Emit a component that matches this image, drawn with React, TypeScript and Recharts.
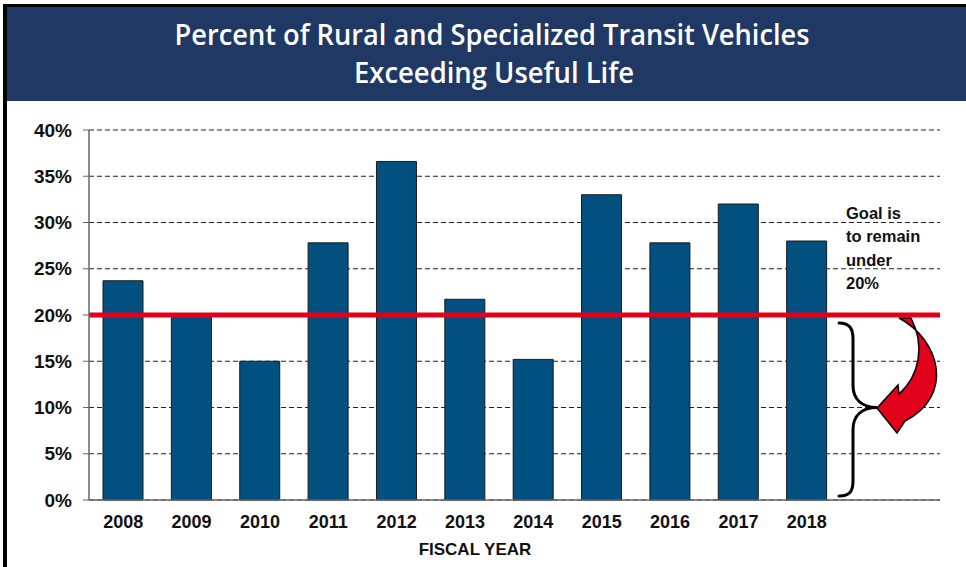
import React from 'react';
import { BarChart, Bar, XAxis, YAxis, CartesianGrid, ReferenceLine, ReferenceArea } from 'recharts';

const years = ['2008', '2009', '2010', '2011', '2012', '2013', '2014', '2015', '2016', '2017', '2018'];
const percentExceeding = [23.7, 20.0, 15.0, 27.8, 36.6, 21.7, 15.2, 33.0, 27.8, 32.0, 28.0];
const yTicks = [0, 5, 10, 15, 20, 25, 30, 35, 40];
const goal = 20;
const titleLines = ['Percent of Rural and Specialized Transit Vehicles', 'Exceeding Useful Life'];
const goalNote = ['Goal is', 'to remain', 'under', '20%'];
const xAxisTitle = 'FISCAL YEAR';

const data = years.map((y, i) => ({ year: y, value: percentExceeding[i] }));

const FONT = '"Liberation Sans", Arial, Helvetica, sans-serif';

// Anchored at the right end of the category band range (just after the last bar band)
const GoalAnnotation = (props: any) => {
  const { x, y, width, height } = props;
  const A = x + width;
  const y0 = y;
  const yb = y + height;
  const mid = y0 + height / 2;
  const p = (dx: number, dy: number) => `${A + dx},${y0 + dy}`;
  const brace = `M ${A - 2},${y0 + 8} C ${A + 9},${y0 + 8} ${A + 12},${y0 + 14} ${A + 12},${y0 + 24} L ${A + 12},${mid - 22} C ${A + 12},${mid - 8} ${A + 21},${mid} ${A + 36},${mid} C ${A + 21},${mid} ${A + 12},${mid + 8} ${A + 12},${mid + 22} L ${A + 12},${yb - 19} C ${A + 12},${yb - 9} ${A + 9},${yb - 4} ${A - 2},${yb - 4}`;
  const arrow = `M ${p(58, 3)} C ${p(99, 25)} ${p(114, 80)} ${p(64, 106)} L ${p(56, 118)} L ${p(36, 93)} L ${p(57, 70)} L ${p(58, 79)} C ${p(79, 60)} ${p(84, 30)} ${p(70, 3)} Z`;
  return (
    <g>
      <path d={brace} fill="none" stroke="#000" strokeWidth={3} strokeLinecap="round" />
      <path d={arrow} fill="#E2001A" stroke="#000" strokeWidth={1.5} strokeLinejoin="miter" />
      {goalNote.map((t, i) => (
        <text key={t} x={A + 5} y={y0 - 96 + i * 23.3} fontFamily={FONT} fontWeight="bold" fontSize={16.5} fill="#111">
          {t}
        </text>
      ))}
    </g>
  );
};

export default function App() {
  return (
    <div style={{ position: 'absolute', left: 0, top: 0, width: 966, height: 567, overflow: 'hidden', background: '#fff' }}>
      <div style={{ position: 'absolute', left: 0, top: 0 }}>
        <BarChart
          width={966}
          height={567}
          data={data}
          margin={{ top: 130, right: 26, bottom: 37, left: 0 }}
        >
          <CartesianGrid vertical={false} stroke="#222" strokeDasharray="5 3" strokeWidth={1} />
          <XAxis
            dataKey="year"
            padding={{ left: 0, right: 99 }}
            axisLine={{ stroke: '#666', strokeWidth: 1.5 }}
            tickLine={false}
            tickMargin={9}
            height={30}
            tick={{ fontFamily: FONT, fontWeight: 'bold', fontSize: 18, fill: '#111' }}
            interval={0}
          />
          <YAxis
            domain={[0, 40]}
            ticks={yTicks}
            width={89}
            tickFormatter={(v: number) => `${v}%`}
            axisLine={{ stroke: '#666', strokeWidth: 1.5 }}
            tickLine={{ stroke: '#666' }}
            tickSize={6}
            tickMargin={11}
            tick={{ fontFamily: FONT, fontWeight: 'bold', fontSize: 19, fill: '#111' }}
            interval={0}
          />
          <Bar dataKey="value" fill="#01507F" stroke="#1a1a1a" strokeWidth={1} barSize={40} isAnimationActive={false} />
          <ReferenceArea y1={0} y2={goal} fill="none" stroke="none" shape={(p: any) => <GoalAnnotation {...p} />} ifOverflow="visible" />
          <ReferenceLine y={goal} stroke="#E2001A" strokeWidth={5} />
        </BarChart>
      </div>
      <div
        style={{
          position: 'absolute', left: 0, top: 540, width: 950, textAlign: 'center',
          fontFamily: FONT, fontWeight: 'bold', fontSize: 17, color: '#111', lineHeight: '20px',
        }}
      >
        {xAxisTitle}
      </div>
      <div style={{ position: 'absolute', left: 3, top: 4, width: 4, height: 580, background: '#000' }} />
      <div style={{ position: 'absolute', left: 3, top: 4, width: 980, height: 3, background: '#000' }} />
      <svg style={{ position: 'absolute', left: 7, top: 7 }} width={970} height={94}>
        <rect x={0} y={0} width={970} height={94} fill="#1F3864" />
        <text x={485} y={38} textAnchor="middle" fill="#fff" fontFamily='"Open Sans", sans-serif' fontWeight={600} fontSize={28} textLength={635} lengthAdjust="spacingAndGlyphs">
          {titleLines[0]}
        </text>
        <text x={487} y={76} textAnchor="middle" fill="#fff" fontFamily='"Open Sans", sans-serif' fontWeight={600} fontSize={28} textLength={280} lengthAdjust="spacingAndGlyphs">
          {titleLines[1]}
        </text>
      </svg>
    </div>
  );
}
